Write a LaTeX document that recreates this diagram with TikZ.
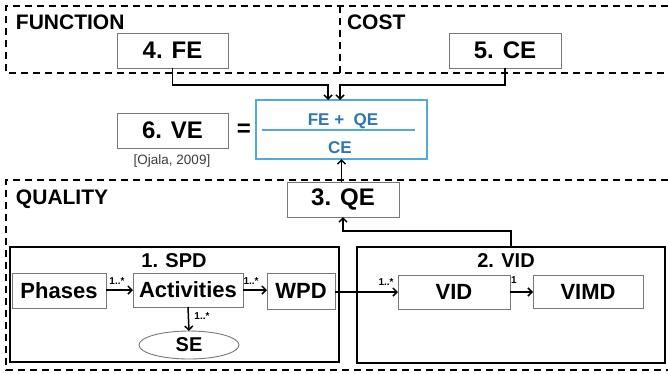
\documentclass[tikz,border=0pt]{standalone}
\usepackage{fontspec}
\setmainfont{Liberation Sans}
\usetikzlibrary{arrows.meta,shapes.geometric}
\definecolor{boxgray}{RGB}{120,120,120}
\definecolor{fblue}{RGB}{80,170,220}
\definecolor{tblue}{RGB}{46,117,182}
\definecolor{citegray}{RGB}{60,60,60}
\tikzset{
  every node/.style={inner sep=0pt, outer sep=0pt},
  bigbox/.style={draw=boxgray, line width=0.9pt, fill=white, font=\bfseries\fontsize{24}{24}\selectfont},
  smallbox/.style={draw=boxgray, line width=0.9pt, fill=white, font=\bfseries\fontsize{22}{22}\selectfont},
  frame/.style={draw=black, line width=1.6pt},
  dashframe/.style={draw=black, line width=1.6pt, dash pattern=on 7pt off 5pt},
  conn/.style={draw=black, line width=1.5pt, -{Straight Barb[length=4pt,width=8pt]}},
  mult/.style={font=\bfseries\fontsize{10}{10}\selectfont},
  sectitle/.style={anchor=base west, font=\bfseries\fontsize{21}{21}\selectfont},
  subtitle/.style={font=\bfseries\fontsize{20}{20}\selectfont},
  formtext/.style={text=tblue, font=\bfseries\fontsize{17}{17}\selectfont},
}
\begin{document}
\begin{tikzpicture}[x=1pt,y=-1pt]
\useasboundingbox (0,0) rectangle (668,373);

% dashed regions
\draw[dashframe] (668,6) -- (6,6) -- (6,73) -- (668,73);
\draw[dashframe] (340,6) -- (340,73);
\draw[dashframe] (668,180) -- (6,180) -- (6,370) -- (668,370);
\node[sectitle] (tfunc) at (16,29) {FUNCTION};
\node[sectitle] (tcost) at (347,29) {COST};
\node[sectitle] (tqual) at (16,204) {QUALITY};

% top boxes
\node[bigbox, minimum width=111pt, minimum height=35pt] (fe) at (172.5,50.5) {4. FE};
\node[bigbox, minimum width=112pt, minimum height=35pt] (ce) at (505,50.5) {5. CE};

% formula
\node[draw=fblue, line width=1.5pt, minimum width=171pt, minimum height=59pt] (formula) at (341.5,129.5) {};
\node[formtext] (num) at (343,121) {FE +\ \ QE};
\node[formtext] (den) at (340,148) {CE};
\coordinate (fl) at (262,130);
\coordinate (fr) at (415,130);
\draw[fblue, line width=1.3pt] (fl) -- (fr);

\node[bigbox, minimum width=111pt, minimum height=35pt] (ve) at (172.5,130.5) {6. VE};
\node[font=\bfseries\fontsize{24}{24}\selectfont] (eq) at (244,130) {=};
\node[text=citegray, font=\fontsize{13.5}{13.5}\selectfont] (cite) at (172,161) {[Ojala, 2009]};

\draw[conn] (fe.south) -- ++(0,17) -| ([xshift=-13.5pt]formula.north);
\draw[conn] (ce.south) -- ++(0,17) -| ([xshift=-1.5pt]formula.north);

% quality
\node[bigbox, minimum width=112pt, minimum height=35pt] (qe) at (343,199.5) {3. QE};
\draw[conn] (formula.south |- qe.north) -- (formula.south);

\node[frame, minimum width=329pt, minimum height=115pt] (spd) at (174.5,304.5) {};
\node[frame, minimum width=308pt, minimum height=116pt] (vidf) at (511,305) {};
\node[subtitle] (tspd) at (174,261) {1. SPD};
\node[subtitle] (tvid) at (506,261) {2. VID};

\draw[conn] (vidf.north) -- ++(0,-16) -| (qe.south);

\node[smallbox, minimum width=94pt, minimum height=35pt] (phases) at (59,290.5) {Phases};
\node[smallbox, minimum width=110pt, minimum height=34pt] (act) at (188,290) {Activities};
\node[smallbox, minimum width=68pt, minimum height=36pt] (wpd) at (301,291) {WPD};
\node[ellipse, draw=boxgray, line width=0.9pt, fill=white, minimum width=100pt, minimum height=28pt, font=\bfseries\fontsize{20}{20}\selectfont] (se) at (189,345) {SE};
\node[smallbox, minimum width=112pt, minimum height=34pt] (vid) at (454,292) {VID};
\node[smallbox, minimum width=110pt, minimum height=33pt] (vimd) at (588,291.5) {VIMD};

\draw[conn] (phases.east |- act.west) -- (act.west);
\draw[conn] (act.east) -- (wpd.west |- act.east);
\draw[conn] (act.south) -- (se.north);
\draw[conn] (wpd.east |- vid.west) -- (vid.west);
\draw[conn] (vid.east) -- (vimd.west |- vid.east);

\node[mult] (m1) at (117,281) {1..*};
\node[mult] (m2) at (251,281) {1..*};
\node[mult] (m3) at (202,316) {1..*};
\node[mult] (m4) at (386,282) {1..*};
\node[mult] (m5) at (514,280) {1};
\end{tikzpicture}
\end{document}
